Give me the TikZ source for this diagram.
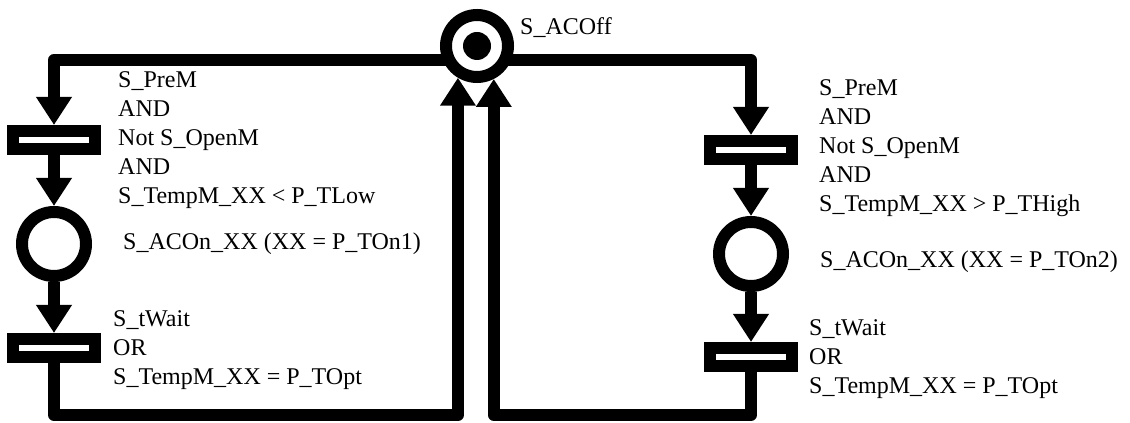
\documentclass[tikz,border=0pt]{standalone}
\usepackage{fontspec}
\setmainfont{Liberation Serif}
\usepackage{tikz}
\usetikzlibrary{arrows.meta, positioning, backgrounds, calc}

\begin{document}
\begin{tikzpicture}[x=1pt, y=1pt,
    place/.style={circle, draw, line width=12pt, fill=white, minimum size=64pt, inner sep=0pt},
    trans/.style={rectangle, draw, line width=12pt, fill=white, minimum width=82pt, minimum height=18pt, inner sep=0pt},
    arc/.style={line width=12pt, line join=round, -{Triangle[length=28pt, width=34pt]}},
    guard/.style={align=left, anchor=north west, inner sep=0pt, font=\fontsize{24}{29}\selectfont},
    lbl/.style={anchor=base west, inner sep=0pt, font=\fontsize{24}{29}\selectfont}]
\useasboundingbox (0,0) rectangle (1130,423);

% Initial place with token
\node[place, minimum size=62pt] (off) at (477,377) {};
\fill (off.center) circle[radius=14];
\node[lbl] (offlbl) at (520,388) {S\_ACOff};

% Left branch: heating
\node[trans] (t1) at (54,283) {};
\node[guard] (g1) at (118,352) {S\_PreM\\AND\\Not S\_OpenM\\AND\\S\_TempM\_XX < P\_TLow};
\node[place] (p1) at (54,179) {};
\node[lbl] (a1) at (123,173) {S\_ACOn\_XX (XX = P\_TOn1)};
\node[trans] (t2) at (54,75) {};
\node[guard] (g2) at (113,113) {S\_tWait\\OR\\S\_TempM\_XX = P\_TOpt};

% Right branch: cooling
\node[trans] (t3) at (751,273) {};
\node[guard] (g3) at (819,344) {S\_PreM\\AND\\Not S\_OpenM\\AND\\S\_TempM\_XX > P\_THigh};
\node[place] (p2) at (751,169) {};
\node[lbl] (a2) at (820,155) {S\_ACOn\_XX (XX = P\_TOn2)};
\node[trans] (t4) at (751,66) {};
\node[guard] (g4) at (809,104) {S\_tWait\\OR\\S\_TempM\_XX = P\_TOpt};

% Return corners
\coordinate (lb) at (off.-121 |- 0,8);
\coordinate (rb) at (off.-63 |- 0,8);

% Arcs
\begin{scope}[on background layer]
    \draw[arc] ([yshift=-14pt]off.center) -| (t1);
    \draw[arc] ([yshift=-14pt]off.center) -| (t3);
    \draw[arc] (t1) -- (p1);
    \draw[arc] (p1) -- (t2);
    \draw[arc] (t3) -- (p2);
    \draw[arc] (p2) -- (t4);
    \draw[arc] (t2) |- (lb) -- (off.-121);
    \draw[arc] (t4) |- (rb) -- (off.-63);
\end{scope}
\end{tikzpicture}
\end{document}
